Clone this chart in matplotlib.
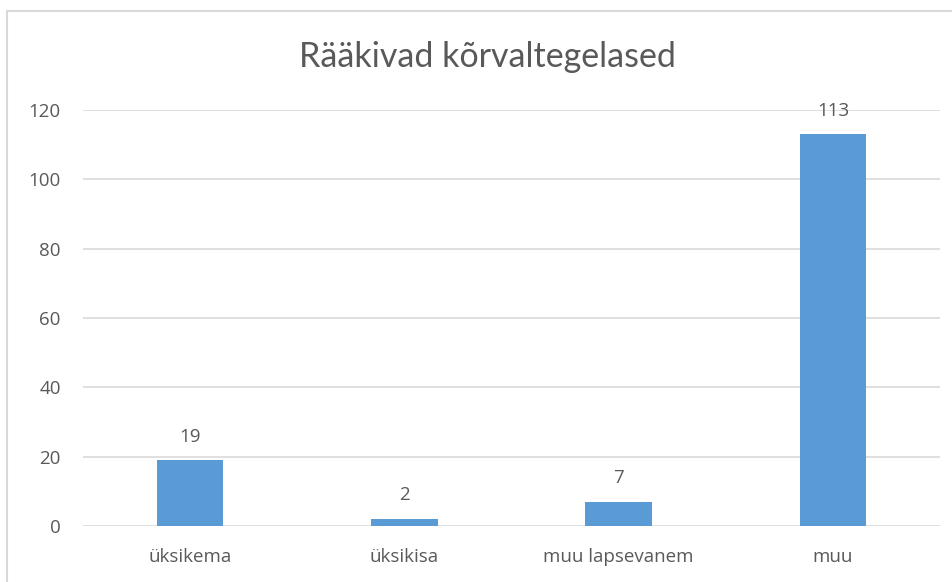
import matplotlib.pyplot as plt
from matplotlib.patches import Rectangle

# chart data
categories = ['üksikema', 'üksikisa', 'muu lapsevanem', 'muu']
values = [19, 2, 7, 113]
yticks = [0, 20, 40, 60, 80, 100, 120]
title = 'Rääkivad kõrvaltegelased'

bar_color = '#5B9BD5'
text_color = '#595959'
grid_color = '#D9D9D9'

plt.rcParams['font.family'] = ['Open Sans', 'DejaVu Sans']

fig = plt.figure(figsize=(9.52, 5.82), dpi=100)
# outer chart border (cut off at right/bottom like the screenshot)
fig.patches.append(Rectangle((7 / 952, -0.1), 1.2, (582 - 11) / 582 + 0.1,
                             transform=fig.transFigure, fill=False,
                             edgecolor=grid_color, linewidth=1.5))

ax = fig.add_axes([83 / 952, 1 - 526 / 582, (940 - 83) / 952, (526 - 110) / 582])

x = range(len(categories))
bars = ax.bar(x, values, width=0.31, color=bar_color, zorder=3)

for xi, v in zip(x, values):
    ax.annotate(str(v), (xi, v), xytext=(0, 17), textcoords='offset points',
                ha='center', va='center', fontsize=13.5, color=text_color)

ax.set_xlim(-0.5, len(categories) - 0.5)
ax.set_ylim(0, 120)
ax.set_yticks(yticks)
ax.set_xticks(list(x))
ax.set_xticklabels(categories)
ax.tick_params(axis='both', length=0, labelsize=13.5, labelcolor=text_color)
ax.tick_params(axis='x', pad=16)
ax.tick_params(axis='y', pad=16)
ax.grid(axis='y', color=grid_color, linewidth=1.2, zorder=0)
for s in ax.spines.values():
    s.set_visible(False)

fig.text(487 / 952, 1 - 57 / 582, title, ha='center', va='center',
         fontsize=24.5, color=text_color, family=['Lato', 'DejaVu Sans'])

plt.savefig('out.png', dpi=100)
